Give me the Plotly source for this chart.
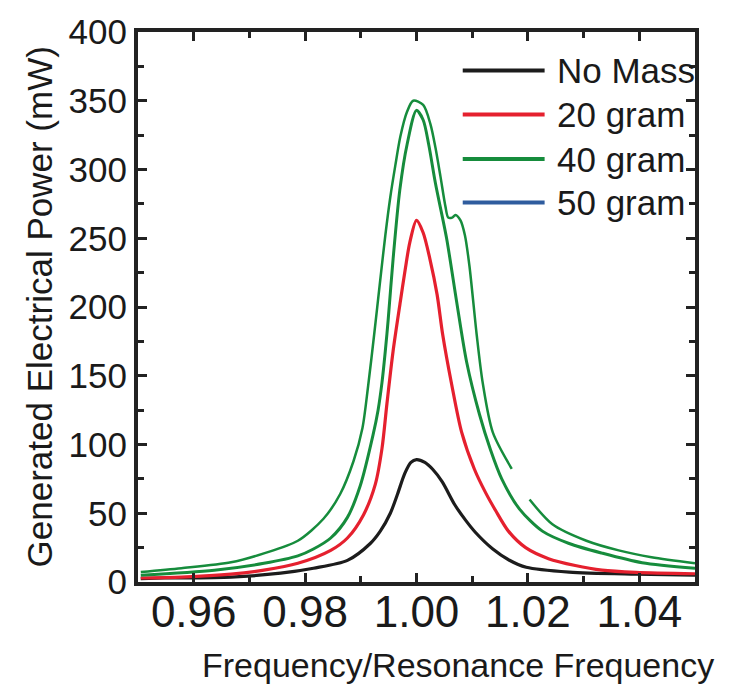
import plotly.graph_objects as go

# Normalised frequency (f / f_res) and generated power (mW) for each added mass
freq_no_mass = [0.9505, 0.9547, 0.9667, 0.9756, 0.9815, 0.9876, 0.9917, 0.9935, 0.9953,
                0.9966, 0.9979, 0.9990, 1.0000, 1.0015, 1.0029, 1.0046, 1.0069, 1.0088,
                1.0106, 1.0137, 1.0166, 1.0197, 1.0274, 1.0394, 1.0500]
power_no_mass = [2.5, 2.9, 3.6, 6.4, 10.0, 15.7, 28.0, 37.0, 50.0,
                 64.0, 79.0, 87.0, 89.0, 87.0, 82.0, 73.0, 56.0, 45.0,
                 36.0, 24.0, 16.0, 10.7, 7.2, 5.7, 5.0]

freq_20g = [0.9505, 0.9578, 0.9667, 0.9726, 0.9787, 0.9846, 0.9876, 0.9905, 0.9926,
            0.9938, 0.9947, 0.9958, 0.9971, 0.9980, 0.9988, 1.0000, 1.0012, 1.0024,
            1.0037, 1.0047, 1.0063, 1.0081, 1.0104, 1.0124, 1.0142, 1.0165, 1.0196,
            1.0237, 1.0285, 1.0333, 1.0394, 1.0500]
power_20g = [2.9, 3.6, 5.7, 8.6, 13.6, 23.0, 32.0, 49.0, 71.0,
             97.0, 130.0, 168.0, 204.0, 228.0, 247.0, 263.0, 254.0, 235.0,
             209.0, 180.0, 144.0, 109.0, 82.0, 65.0, 52.0, 37.0, 25.0,
             17.0, 12.0, 8.6, 7.0, 6.0]

freq_40g = [0.9505, 0.9637, 0.9726, 0.9787, 0.9815, 0.9846, 0.9876, 0.9899, 0.9922,
            0.9931, 0.9938, 0.9944, 0.9949, 0.9958, 0.9970, 0.9983, 1.0000, 1.0012,
            1.0022, 1.0034, 1.0054, 1.0072, 1.0090, 1.0113, 1.0133, 1.0153, 1.0185,
            1.0226, 1.0274, 1.0333, 1.0405, 1.0500]
power_40g = [5.0, 8.6, 13.6, 19.0, 24.0, 32.0, 47.0, 70.0, 107.0,
             125.0, 145.0, 168.0, 190.0, 235.0, 285.0, 318.0, 343.0, 336.0,
             318.0, 290.0, 250.0, 204.0, 160.0, 122.0, 96.0, 75.0, 53.0,
             37.0, 28.0, 21.0, 14.0, 10.0]

# The 50 g record has a short break in it just past f/f_res = 1.017
freq_50g = [0.9505, 0.9578, 0.9667, 0.9726, 0.9787, 0.9833, 0.9863, 0.9887, 0.9903,
            0.9913, 0.9924, 0.9935, 0.9944, 0.9953, 0.9962, 0.9971, 0.9983, 0.9994,
            1.0012, 1.0025, 1.0034, 1.0043, 1.0052, 1.0057, 1.0064, 1.0070, 1.0079,
            1.0087, 1.0095, 1.0108, 1.0119, 1.0137, 1.0171, 1.0186, 1.0203, 1.0244,
            1.0305, 1.0363, 1.0422, 1.0500]
power_50g = [7.2, 10.0, 14.3, 20.8, 30.0, 46.0, 64.0, 88.0, 112.0,
             142.0, 180.0, 220.0, 252.0, 280.0, 303.0, 324.0, 342.0, 350.0,
             347.0, 333.0, 316.0, 295.0, 273.0, 265.0, 265.0, 267.0, 263.0,
             252.0, 230.0, 180.0, 144.5, 108.8, 82.3, None, 60.0, 42.0,
             30.0, 23.0, 18.0, 13.6]

x_tickvals = [0.96, 0.98, 1.00, 1.02, 1.04]
x_ticktext = ["0.96", "0.98", "1.00", "1.02", "1.04"]
legend_labels = ["No Mass", "20 gram", "40 gram", "50 gram"]

BLACK = "#1c1c1c"
RED = "#e5202e"
GREEN = "#168c3c"
BLUE = "#2f5c9e"
FONT = "Liberation Sans, Arial, sans-serif"

series = [
    (freq_no_mass, power_no_mass, BLACK, 3.2),
    (freq_20g, power_20g, RED, 3.2),
    (freq_40g, power_40g, GREEN, 3.0),
    (freq_50g, power_50g, GREEN, 2.5),
]

fig = go.Figure()
for fx, py, color, width in series:
    fig.add_trace(go.Scatter(
        x=fx, y=py, mode="lines", connectgaps=False, showlegend=False,
        line=dict(color=color, width=width, shape="spline", smoothing=0.8),
    ))

axis_common = dict(
    showline=True, linewidth=4, linecolor="#222222", mirror="ticks",
    ticks="inside", tickwidth=3, tickcolor="#222222", ticklen=9,
    showgrid=False, zeroline=False,
)

fig.update_layout(
    width=732, height=689,
    margin=dict(l=138, r=37, t=24, b=107),
    paper_bgcolor="white", plot_bgcolor="white",
    font=dict(family=FONT, color="#1a1a1a"),
    showlegend=False,
    xaxis=dict(
        range=[0.95, 1.05], tickvals=x_tickvals, ticktext=x_ticktext,
        tickfont=dict(size=44, family=FONT, color="#1a1a1a"),
        ticklabelstandoff=-12,
        minor=dict(dtick=0.01, tick0=0.95, ticks="inside", ticklen=6,
                   tickwidth=3, tickcolor="#222222"),
        **axis_common,
    ),
    yaxis=dict(
        range=[0, 400], dtick=50, tick0=0,
        tickfont=dict(size=35, family=FONT, color="#1a1a1a"),
        ticklabelstandoff=0,
        minor=dict(dtick=25, tick0=0, ticks="inside", ticklen=6,
                   tickwidth=3, tickcolor="#222222"),
        **axis_common,
    ),
)

# Axis titles
fig.add_annotation(
    text="Frequency/Resonance Frequency", xref="paper", yref="paper",
    x=0.574, y=-0.151, xanchor="center", yanchor="middle", showarrow=False,
    font=dict(size=34, family=FONT, color="#1a1a1a"),
)
fig.add_annotation(
    text="Generated Electrical Power (mW)", xref="paper", yref="paper",
    x=-0.177, y=0.5, xanchor="center", yanchor="middle", showarrow=False,
    textangle=-90, font=dict(size=35, family=FONT, color="#1a1a1a"),
)

# Legend: sample lines and labels in the upper right of the plot
legend_colors = [BLACK, RED, GREEN, BLUE]
legend_rows = [0.930, 0.850, 0.769, 0.690]
for label, color, yrow in zip(legend_labels, legend_colors, legend_rows):
    fig.add_shape(type="line", xref="paper", yref="paper",
                  x0=0.583, x1=0.730, y0=yrow, y1=yrow,
                  line=dict(color=color, width=4))
    fig.add_annotation(text=label, xref="paper", yref="paper",
                       x=0.748, y=yrow, xanchor="left", yanchor="middle",
                       showarrow=False,
                       font=dict(size=35, family=FONT, color="#1a1a1a"))

fig.write_html("out.html")
